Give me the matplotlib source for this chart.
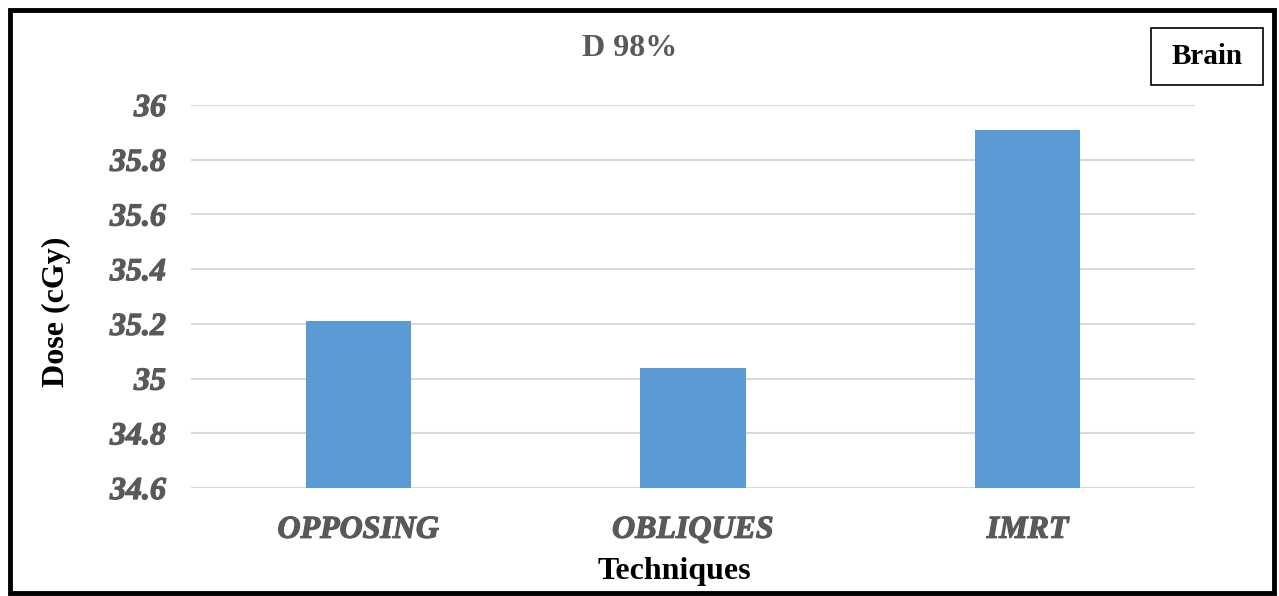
import matplotlib
matplotlib.use("Agg")
import matplotlib.pyplot as plt
from matplotlib.patches import Rectangle
from matplotlib.font_manager import FontProperties
import matplotlib.patheffects as pe

techniques = ["OPPOSING", "OBLIQUES", "IMRT"]
dose = [35.21, 35.04, 35.91]
yticks = [34.6, 34.8, 35.0, 35.2, 35.4, 35.6, 35.8, 36.0]
ytick_labels = ["34.6", "34.8", "35", "35.2", "35.4", "35.6", "35.8", "36"]

W, H = 1279, 596
fig = plt.figure(figsize=(W / 100, H / 100), dpi=100)
serif = "Liberation Serif"
gray = "#595959"
tick_font = FontProperties(family=serif, weight="bold", style="italic", size=23)
# thicken the italic glyphs so they read as bold italic
heavy = [pe.withStroke(linewidth=0.9, foreground=gray)]

ax = fig.add_axes([191 / W, 1 - 488 / H, (1195 - 191) / W, (488 - 105) / H])
x = range(len(techniques))
ax.bar(x, [d - 34.6 for d in dose], bottom=34.6, width=0.314, color="#5B9BD5", zorder=3)
ax.set_xlim(-0.5, 2.5)
ax.set_ylim(34.6, 36.0)
ax.set_yticks(yticks)
ax.set_yticklabels(ytick_labels, fontproperties=tick_font, color=gray)
ax.set_xticks(list(x))
ax.set_xticklabels(techniques, fontproperties=tick_font, color=gray)
for lbl in ax.get_yticklabels() + ax.get_xticklabels():
    lbl.set_path_effects(heavy)
ax.tick_params(axis="both", length=0)
ax.tick_params(axis="y", pad=18)
ax.tick_params(axis="x", pad=20)
ax.yaxis.grid(True, color="#D9D9D9", linewidth=1.5, zorder=0)
ax.set_axisbelow(True)
for s in ax.spines.values():
    s.set_visible(False)

fig.text(630 / W, 1 - 48 / H, "D 98%", ha="center", va="center",
         fontfamily=serif, fontweight="bold", fontsize=23, color=gray)
fig.text(674 / W, 1 - 571 / H, "Techniques", ha="center", va="center",
         fontfamily=serif, fontweight="bold", fontsize=23, color="black")
fig.text(56 / W, 1 - 312 / H, "Dose (cGy)", ha="center", va="center", rotation=90,
         fontfamily=serif, fontweight="bold", fontsize=23, color="black")

# Label box in the upper right corner
fig.patches.append(Rectangle((1151 / W, 1 - 85 / H), 112 / W, 57 / H,
                             transform=fig.transFigure, fill=False,
                             edgecolor="black", linewidth=1.2))
fig.text(1207 / W, 1 - 57 / H, "Brain", ha="center", va="center",
         fontfamily=serif, fontweight="bold", fontsize=21, color="black")

# Outer frame
fig.patches.append(Rectangle((10 / W, 1 - 593 / H), 1264 / W, 583 / H,
                             transform=fig.transFigure, fill=False,
                             edgecolor="black", linewidth=3.5))

fig.savefig("out.png", dpi=100)
